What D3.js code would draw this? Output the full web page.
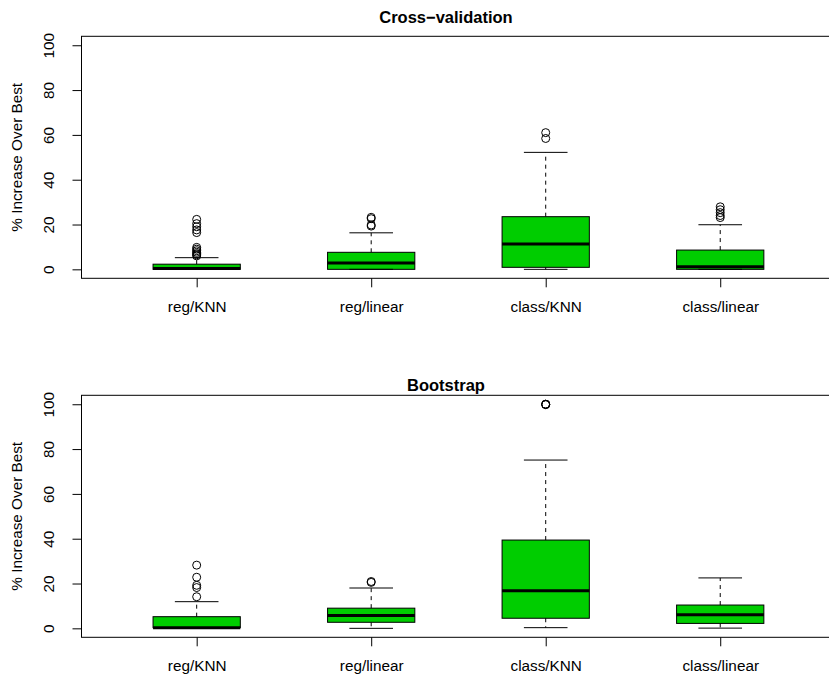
<!DOCTYPE html>
<html><head><meta charset="utf-8">
<script src="https://cdn.jsdelivr.net/npm/d3@7"></script>
<style>body{margin:0;background:#fff} svg{display:block;background:#fff}</style>
</head><body>
<svg id="c" width="829" height="676"></svg>
<script>
// ---- data ----
const categories = ["reg/KNN", "reg/linear", "class/KNN", "class/linear"];
const yTicks = [0, 20, 40, 60, 80, 100];
const panelTitles = ["Cross\u2212validation", "Bootstrap"];
const yAxisTitle = "% Increase Over Best";

// Cross-validation
const cvLower  = [0, 0, 0, 0];
const cvQ1     = [0, 0, 0.9, 0];
const cvMedian = [0.35, 2.8, 11.3, 1.2];
const cvQ3     = [2.3, 7.6, 23.5, 8.6];
const cvUpper  = [5.2, 16.3, 52.2, 19.9];
const cvOutliers = [
  [22.3, 20.4, 19.0, 17.6, 16.4, 9.8, 9.0, 8.3, 7.6, 7.0, 6.5, 6.0],
  [23.2, 22.6, 19.8, 19.3],
  [61.0, 58.4],
  [27.9, 26.6, 25.3, 24.0, 23.1]
];

// Bootstrap
const bsLower  = [0, 0, 0.3, 0.1];
const bsQ1     = [0.3, 2.7, 4.5, 2.2];
const bsMedian = [0.3, 5.7, 16.8, 6.1];
const bsQ3     = [5.2, 9.0, 39.4, 10.4];
const bsUpper  = [11.9, 18.0, 75.1, 22.5];
const bsOutliers = [
  [28.2, 22.8, 19.2, 18.2, 14.1],
  [20.9, 20.5],
  [100, 100, 100, 99.8],
  []
];

// ---- layout ----
const svg = d3.select("#c");
svg.append("rect").attr("width", 829).attr("height", 676).attr("fill", "#fff");
const FONT = "'Liberation Sans', Arial, Helvetica, sans-serif";
const TITLE_FONT = "'Liberation Sans Narrow', 'Liberation Sans', Arial, sans-serif";
const left = 81.5, right = 835.4;
const x = d3.scaleLinear().domain([0.34, 4.66]).range([left, right]);
const boxFill = "#00CD00";

const panels = [
  {title: panelTitles[0], lo: cvLower, q1: cvQ1, med: cvMedian, q3: cvQ3, hi: cvUpper, out: cvOutliers,
   top: 36.3, bottom: 278.3, titleY: 23},
  {title: panelTitles[1], lo: bsLower, q1: bsQ1, med: bsMedian, q3: bsQ3, hi: bsUpper, out: bsOutliers,
   top: 395.3, bottom: 637.3, titleY: 390.5}
];

panels.forEach(p => {
  const y = d3.scaleLinear().domain([-4, 104]).range([p.bottom, p.top]);
  const g = svg.append("g");

  // title
  g.append("text").attr("x", 446).attr("y", p.titleY)
    .attr("text-anchor", "middle").attr("font-family", TITLE_FONT)
    .attr("font-weight", "bold").attr("font-size", 16.5).text(p.title);

  // y axis title
  g.append("text")
    .attr("transform", `translate(22,${(p.top + p.bottom) / 2}) rotate(-90)`)
    .attr("text-anchor", "middle").attr("font-family", FONT)
    .attr("font-size", 15.3).text(yAxisTitle);

  // y axis
  const ya = g.append("g").attr("transform", `translate(${left},0)`)
    .call(d3.axisLeft(y).tickValues(yTicks).tickSize(9).tickSizeOuter(0).tickFormat(d3.format("d")));
  ya.select(".domain").remove();
  ya.selectAll(".tick line").attr("stroke", "#000");
  ya.selectAll(".tick text")
    .attr("transform", "rotate(-90)")
    .attr("x", 0).attr("y", -27.5).attr("dy", 0)
    .attr("text-anchor", "middle")
    .attr("font-family", FONT).attr("font-size", 15.3).attr("fill", "#000");

  // x axis
  const xa = g.append("g").attr("transform", `translate(0,${p.bottom})`)
    .call(d3.axisBottom(x).tickValues([1, 2, 3, 4]).tickSize(9).tickSizeOuter(0)
      .tickFormat(i => categories[i - 1]));
  xa.select(".domain").remove();
  xa.selectAll(".tick line").attr("stroke", "#000");
  xa.selectAll(".tick text").attr("y", 34).attr("dy", 0)
    .attr("font-family", FONT).attr("font-size", 15.3).attr("fill", "#000");

  // boxes
  const bw = x(1.25) - x(1);   // half box width
  const sw = x(1.125) - x(1);  // half staple width
  categories.forEach((c, i) => {
    const cx = x(i + 1);
    const bg = g.append("g");
    bg.append("rect").attr("x", cx - bw).attr("width", 2 * bw)
      .attr("y", y(p.q3[i])).attr("height", y(p.q1[i]) - y(p.q3[i]))
      .attr("fill", boxFill);
    bg.append("line").attr("x1", cx).attr("x2", cx)
      .attr("y1", y(p.q3[i])).attr("y2", y(p.hi[i]))
      .attr("stroke", "#000").attr("stroke-dasharray", "4,4");
    bg.append("line").attr("x1", cx).attr("x2", cx)
      .attr("y1", y(p.q1[i])).attr("y2", y(p.lo[i]))
      .attr("stroke", "#000").attr("stroke-dasharray", "4,4");
    [p.hi[i], p.lo[i]].forEach(v => {
      bg.append("line").attr("x1", cx - sw).attr("x2", cx + sw)
        .attr("y1", y(v)).attr("y2", y(v)).attr("stroke", "#000");
    });
    bg.append("rect").attr("x", cx - bw).attr("width", 2 * bw)
      .attr("y", y(p.q3[i])).attr("height", y(p.q1[i]) - y(p.q3[i]))
      .attr("fill", "none").attr("stroke", "#000");
    bg.append("line").attr("x1", cx - bw).attr("x2", cx + bw)
      .attr("y1", y(p.med[i])).attr("y2", y(p.med[i]))
      .attr("stroke", "#000").attr("stroke-width", 3);
    bg.selectAll("circle.o").data(p.out[i]).enter().append("circle")
      .attr("class", "o").attr("cx", cx).attr("cy", d => y(d)).attr("r", 4)
      .attr("fill", "none").attr("stroke", "#000");
  });

  // frame
  g.append("rect").attr("x", left).attr("y", p.top)
    .attr("width", right - left).attr("height", p.bottom - p.top)
    .attr("fill", "none").attr("stroke", "#000");
});
</script>
</body></html>
